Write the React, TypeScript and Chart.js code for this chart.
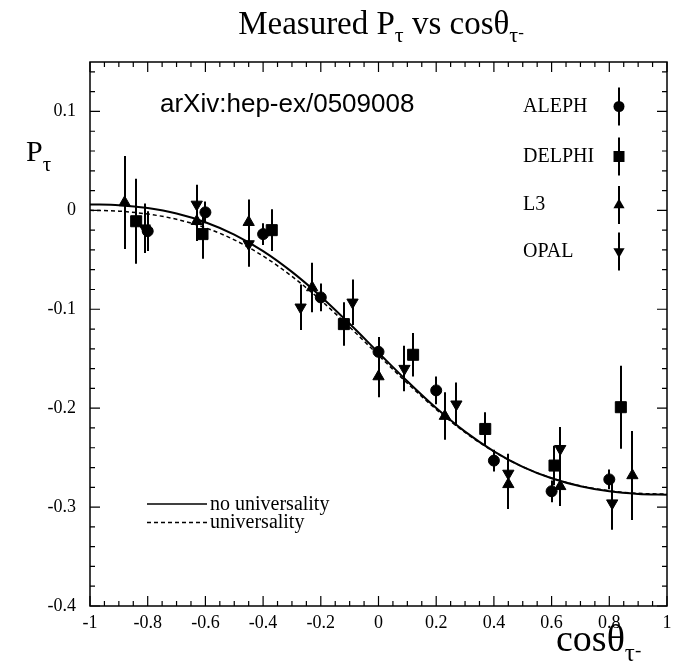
import React, { useEffect, useRef } from "react";
import { Chart, registerables } from "chart.js";

Chart.register(...registerables);

// ---- data ----
const alephX = [-0.8, -0.6, -0.4, -0.2, 0.0, 0.2, 0.4, 0.6, 0.8];
const alephY = [-0.021, -0.002, -0.024, -0.088, -0.143, -0.182, -0.253, -0.284, -0.272];
const alephErr = [0.02, 0.011, 0.011, 0.014, 0.015, 0.014, 0.011, 0.011, 0.01];

const delphiX = [-0.84, -0.61, -0.37, -0.12, 0.12, 0.37, 0.61, 0.84];
const delphiY = [-0.011, -0.024, -0.02, -0.115, -0.146, -0.221, -0.258, -0.199];
const delphiErr = [0.043, 0.025, 0.021, 0.022, 0.022, 0.017, 0.02, 0.042];

const l3X = [-0.88, -0.63, -0.45, -0.23, 0.0, 0.23, 0.45, 0.63, 0.88];
const l3Y = [0.008, -0.011, -0.012, -0.078, -0.168, -0.208, -0.277, -0.279, -0.268];
const l3Err = [0.047, 0.02, 0.023, 0.025, 0.021, 0.024, 0.025, 0.02, 0.045];

const opalX = [-0.81, -0.63, -0.45, -0.27, -0.09, 0.09, 0.27, 0.45, 0.63, 0.81];
const opalY = [-0.018, 0.006, -0.034, -0.098, -0.093, -0.16, -0.196, -0.266, -0.241, -0.296];
const opalErr = [0.025, 0.02, 0.023, 0.023, 0.023, 0.023, 0.022, 0.02, 0.022, 0.027];

const curveX = [-1, -0.9, -0.8, -0.7, -0.6, -0.5, -0.4, -0.3, -0.2, -0.1, 0, 0.1, 0.2, 0.3, 0.4, 0.5, 0.6, 0.7, 0.8, 0.9, 1];
const noUnivY = [0.006, 0.0052, 0.0023, -0.0032, -0.012, -0.0245, -0.0412, -0.0622, -0.087, -0.1147, -0.1439, -0.1728, -0.1999, -0.2237, -0.2436, -0.2593, -0.2709, -0.279, -0.2841, -0.2867, -0.2875];
const univY = [0, -0.0008, -0.0037, -0.009, -0.0176, -0.0298, -0.0462, -0.0667, -0.0909, -0.118, -0.1465, -0.1748, -0.2012, -0.2245, -0.2439, -0.2593, -0.2706, -0.2785, -0.2835, -0.2861, -0.2869];

const xTicks = [-1, -0.8, -0.6, -0.4, -0.2, 0, 0.2, 0.4, 0.6, 0.8, 1];
const yTicks = [-0.4, -0.3, -0.2, -0.1, 0, 0.1];

const experiments = ["ALEPH", "DELPHI", "L3", "OPAL"];
const curveLabels = ["no universality", "universality"];

const SERIF = '"Liberation Serif", "DejaVu Serif", serif';
const SANS = '"Liberation Sans", Arial, sans-serif';

const pts = (xs: number[], ys: number[]) => xs.map((x, i) => ({ x, y: ys[i] }));

function drawMarker(ctx: CanvasRenderingContext2D, kind: string, x: number, y: number) {
  ctx.beginPath();
  if (kind === "circle") ctx.arc(x, y, 5.5, 0, Math.PI * 2);
  else if (kind === "rect") ctx.rect(x - 5.5, y - 5.5, 11, 11);
  else if (kind === "up") {
    ctx.moveTo(x, y - 6.5);
    ctx.lineTo(x + 5.6, y + 3.3);
    ctx.lineTo(x - 5.6, y + 3.3);
    ctx.closePath();
  } else {
    ctx.moveTo(x, y + 6.5);
    ctx.lineTo(x + 5.6, y - 3.3);
    ctx.lineTo(x - 5.6, y - 3.3);
    ctx.closePath();
  }
  ctx.fill();
}

type Part = { t: string; size: number; dy: number };
function drawRich(ctx: CanvasRenderingContext2D, parts: Part[], x: number, y: number, center: boolean) {
  let total = 0;
  for (const p of parts) {
    ctx.font = `${p.size}px ${SERIF}`;
    total += ctx.measureText(p.t).width;
  }
  let cx = center ? x - total / 2 : x;
  ctx.textAlign = "left";
  ctx.textBaseline = "alphabetic";
  for (const p of parts) {
    ctx.font = `${p.size}px ${SERIF}`;
    ctx.fillText(p.t, cx, y + p.dy);
    cx += ctx.measureText(p.t).width;
  }
}

const customPlugin = {
  id: "custom",
  beforeDatasetsDraw(chart: any) {
    const ctx = chart.ctx as CanvasRenderingContext2D;
    const xs = chart.scales.x;
    const ys = chart.scales.y;
    const a = chart.chartArea;
    ctx.save();
    ctx.beginPath();
    ctx.rect(a.left, a.top, a.right - a.left, a.bottom - a.top);
    ctx.clip();
    ctx.strokeStyle = "#000";
    ctx.lineWidth = 2;
    chart.data.datasets.forEach((ds: any) => {
      if (!ds.errors) return;
      ds.data.forEach((p: any, i: number) => {
        const e = ds.errors[i];
        const px = Math.round(xs.getPixelForValue(p.x));
        ctx.beginPath();
        ctx.moveTo(px, ys.getPixelForValue(p.y - e));
        ctx.lineTo(px, ys.getPixelForValue(p.y + e));
        ctx.stroke();
      });
    });
    ctx.restore();
  },
  afterDraw(chart: any) {
    const ctx = chart.ctx as CanvasRenderingContext2D;
    const xs = chart.scales.x;
    const ys = chart.scales.y;
    const a = chart.chartArea;
    ctx.save();
    ctx.strokeStyle = "#000";
    ctx.fillStyle = "#000";
    // frame
    ctx.lineWidth = 1.5;
    ctx.strokeRect(a.left, a.top, a.right - a.left, a.bottom - a.top);
    // ticks
    ctx.lineWidth = 1.2;
    for (let i = 0; i <= 40; i++) {
      const v = -1 + i * 0.05;
      const px = xs.getPixelForValue(v);
      const len = i % 4 === 0 ? 10 : 5;
      ctx.beginPath();
      ctx.moveTo(px, a.bottom);
      ctx.lineTo(px, a.bottom - len);
      ctx.moveTo(px, a.top);
      ctx.lineTo(px, a.top + len);
      ctx.stroke();
    }
    for (let i = 0; i <= 27; i++) {
      const v = -0.4 + i * 0.02;
      const py = ys.getPixelForValue(v);
      const len = i % 5 === 0 ? 10 : 5;
      ctx.beginPath();
      ctx.moveTo(a.left, py);
      ctx.lineTo(a.left + len, py);
      ctx.moveTo(a.right, py);
      ctx.lineTo(a.right - len, py);
      ctx.stroke();
    }
    // title
    drawRich(ctx, [
      { t: "Measured P", size: 33, dy: 0 },
      { t: "τ", size: 22, dy: 8 },
      { t: " vs cosθ", size: 33, dy: 0 },
      { t: "τ", size: 22, dy: 8 },
      { t: "-", size: 17, dy: 4 },
    ], 381, 34, true);
    // y axis label
    drawRich(ctx, [
      { t: "P", size: 30, dy: 0 },
      { t: "τ", size: 21, dy: 10 },
    ], 26, 161, false);
    // x axis label
    drawRich(ctx, [
      { t: "cosθ", size: 38, dy: 0 },
      { t: "τ", size: 25, dy: 10 },
      { t: "-", size: 19, dy: 5 },
    ], 556, 651, false);
    // arXiv tag
    ctx.font = `26px ${SANS}`;
    ctx.textAlign = "left";
    ctx.textBaseline = "middle";
    ctx.fillText("arXiv:hep-ex/0509008", 160, 105);
    // experiment legend
    const kinds = ["circle", "rect", "up", "down"];
    const ly = [106.5, 156.5, 205, 251.5];
    ctx.font = `20px ${SERIF}`;
    ctx.textBaseline = "middle";
    experiments.forEach((name, i) => {
      ctx.fillText(name, 523, ly[i]);
      ctx.lineWidth = 2;
      ctx.beginPath();
      ctx.moveTo(619, ly[i] - 19);
      ctx.lineTo(619, ly[i] + 19);
      ctx.stroke();
      drawMarker(ctx, kinds[i], 619, ly[i]);
    });
    // curve legend
    ctx.lineWidth = 1.5;
    ctx.beginPath();
    ctx.moveTo(147, 504);
    ctx.lineTo(207, 504);
    ctx.stroke();
    ctx.setLineDash([4, 3]);
    ctx.beginPath();
    ctx.moveTo(147, 522.5);
    ctx.lineTo(207, 522.5);
    ctx.stroke();
    ctx.setLineDash([]);
    ctx.font = `20px ${SERIF}`;
    ctx.textBaseline = "alphabetic";
    ctx.fillText(curveLabels[0], 210, 510);
    ctx.fillText(curveLabels[1], 210, 528);
    ctx.restore();
  },
};

export default function App() {
  const ref = useRef<HTMLCanvasElement | null>(null);
  useEffect(() => {
    if (!ref.current) return;
    const markerDs = (label: string, xs: number[], ys: number[], errs: number[], style: string, radius: number, rot = 0) => ({
      label,
      data: pts(xs, ys),
      errors: errs,
      showLine: false,
      pointStyle: style,
      pointRadius: radius,
      pointRotation: rot,
      pointBackgroundColor: "#000",
      pointBorderColor: "#000",
      pointBorderWidth: 1,
      order: 0,
    });
    const chart = new Chart(ref.current, {
      type: "scatter",
      data: {
        datasets: [
          markerDs(experiments[0], alephX, alephY, alephErr, "circle", 5.5),
          markerDs(experiments[1], delphiX, delphiY, delphiErr, "rect", 7.8),
          markerDs(experiments[2], l3X, l3Y, l3Err, "triangle", 6.5),
          markerDs(experiments[3], opalX, opalY, opalErr, "triangle", 6.5, 180),
          {
            label: curveLabels[0],
            data: pts(curveX, noUnivY),
            showLine: true,
            borderColor: "#000",
            borderWidth: 2,
            pointRadius: 0,
            cubicInterpolationMode: "monotone",
            order: 1,
          },
          {
            label: curveLabels[1],
            data: pts(curveX, univY),
            showLine: true,
            borderColor: "#000",
            borderWidth: 1.5,
            borderDash: [4, 3],
            pointRadius: 0,
            cubicInterpolationMode: "monotone",
            order: 2,
          },
        ] as any,
      },
      options: {
        animation: false,
        responsive: false,
        maintainAspectRatio: false,
        layout: { padding: { top: 62, right: 12, left: 0, bottom: 0 } },
        plugins: { legend: { display: false }, tooltip: { enabled: false }, title: { display: false } },
        scales: {
          x: {
            type: "linear",
            min: -1,
            max: 1,
            grid: { display: false, drawTicks: false },
            border: { display: false },
            afterBuildTicks: (s: any) => { s.ticks = xTicks.map((v) => ({ value: v })); },
            afterFit: (s: any) => { s.height = 61; },
            ticks: {
              padding: 6,
              color: "#000",
              maxRotation: 0,
              autoSkip: false,
              font: { family: SERIF, size: 18 },
              callback: (v: any) => String(+(+v).toFixed(2)),
            },
          },
          y: {
            type: "linear",
            min: -0.4,
            max: 0.15,
            grid: { display: false, drawTicks: false },
            border: { display: false },
            afterBuildTicks: (s: any) => { s.ticks = yTicks.map((v) => ({ value: v })); },
            afterFit: (s: any) => { s.width = 90; },
            ticks: {
              padding: 14,
              color: "#000",
              autoSkip: false,
              font: { family: SERIF, size: 18 },
              callback: (v: any) => String(+(+v).toFixed(2)),
            },
          },
        },
      } as any,
      plugins: [customPlugin as any],
    });
    return () => chart.destroy();
  }, []);
  return (
    <div style={{ position: "absolute", left: 0, top: 0, width: 679, height: 667, background: "#fff" }}>
      <canvas ref={ref} width={679} height={667} style={{ display: "block", width: 679, height: 667 }} />
    </div>
  );
}
